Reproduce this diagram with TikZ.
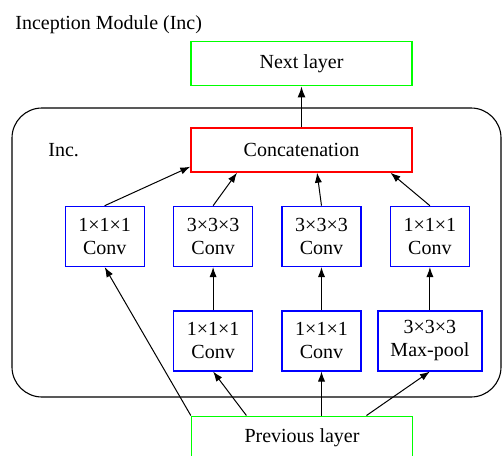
\documentclass[tikz,border=0pt]{standalone}
\usepackage{fontspec}
\setmainfont{Liberation Serif}
\usetikzlibrary{positioning, arrows.meta, calc}

\begin{document}
\begin{tikzpicture}[
  layer/.style={draw=green, line width=0.7pt, minimum width=110.5pt, minimum height=22pt,
                align=center, font=\fontsize{10}{12}\selectfont},
  concat/.style={draw=red, line width=0.7pt, minimum width=110.5pt, minimum height=22pt,
                 align=center, font=\fontsize{10}{12}\selectfont},
  conv/.style={draw=blue, line width=0.7pt, minimum width=39.5pt, minimum height=30pt,
               inner sep=2pt, align=center, font=\fontsize{10}{11.5}\selectfont},
  pool/.style={conv, minimum width=52pt},
  module/.style={draw, line width=0.55pt, rounded corners=15pt},
  arr/.style={-{Latex[length=5pt, width=3.6pt]}, line width=0.5pt},
  arrb/.style={-{Latex[length=5.5pt, width=4pt]}, line width=0.8pt},
  lbl/.style={anchor=base west, inner sep=0pt, font=\fontsize{10}{12}\selectfont},
]
\useasboundingbox (0,0) rectangle (251pt,-227.5pt);

% --- Title ---
\node[lbl] (title) at (7.5pt,-14.5pt) {Inception Module (Inc)};

% --- Outer module box ---
\draw[module] (6pt,-54pt) rectangle (250.5pt,-198.5pt);
\node[lbl] (inc) at (24pt,-78pt) {Inc.};

% --- Top: concatenation and next layer ---
\node[concat] (concat) at (150.75pt,-75pt) {Concatenation};
\node[layer, above=20.5pt of concat] (next) {Next layer};

% --- Row 1: branch heads ---
\node[conv, below=16.5pt of concat, xshift=10pt] (c3) {3×3×3\\Conv};
\node[conv, left=14pt of c3] (c2) {3×3×3\\Conv};
\node[conv, left=14pt of c2] (c1) {1×1×1\\Conv};
\node[conv, right=14pt of c3] (c4) {1×1×1\\Conv};

% --- Row 2: reductions and pooling ---
\node[conv, below=21.5pt of c2] (r2) {1×1×1\\Conv};
\node[conv, below=21.5pt of c3] (r3) {1×1×1\\Conv};
\node[pool, below=21.5pt of c4] (pool) {3×3×3\\Max-pool};

% --- Input ---
\node[layer, below=22pt of r3, xshift=-9.75pt] (prev) {Previous layer};

% --- Arrows into the branches ---
\draw[arr] (prev.north west) -- (c1.south);
\draw[arr] ($(prev.north west)!0.25!(prev.north east)$) -- (r2.south);
\draw[arr] (prev.north -| r3) -- (r3.south);
\draw[arr] ($(prev.north west)!0.79!(prev.north east)$) -- (pool.south);

\draw[arr] (r2) -- (c2);
\draw[arr] (r3) -- (c3);
\draw[arr] (pool) -- (c4);

% --- Arrows into concatenation ---
\draw[arr] (c1.north) -- ([yshift=3pt]concat.south west);
\draw[arr] (c2.north) -- ($(concat.south west)!0.21!(concat.south east)$);
\draw[arr] (c3.north) -- ($(concat.south west)!0.57!(concat.south east)$);
\draw[arr] (c4.north) -- ($(concat.south west)!0.90!(concat.south east)$);

\draw[arrb] (concat) -- (next);

\end{tikzpicture}
\end{document}
